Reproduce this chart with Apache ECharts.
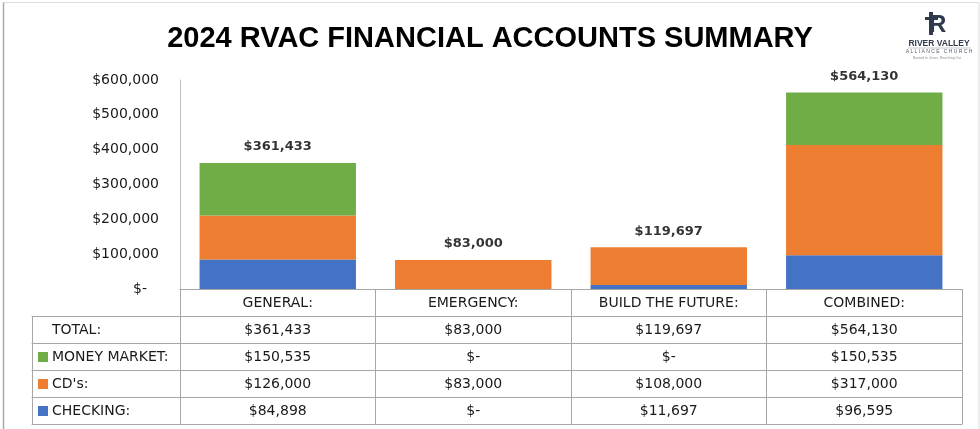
<!DOCTYPE html>
<html>
<head>
<meta charset="utf-8">
<title>2024 RVAC Financial Accounts Summary</title>
<script src="https://cdn.jsdelivr.net/npm/echarts@6/dist/echarts.min.js"></script>
<style>
    html, body { margin: 0; padding: 0; background: #fff; }
    #main { width: 980px; height: 429px; }
</style>
</head>
<body>
<div id="main"></div>
<script>
// accounts (columns of the table)
var accounts = ["GENERAL:", "EMERGENCY:", "BUILD THE FUTURE:", "COMBINED:"];
var checking = [84898, 0, 11697, 96595];
var cds = [126000, 83000, 108000, 317000];
var moneyMarket = [150535, 0, 0, 150535];
var totals = [361433, 83000, 119697, 564130];
var rowNames = ["TOTAL:", "MONEY MARKET:", "CD's:", "CHECKING:"];
var yTicks = [0, 100000, 200000, 300000, 400000, 500000, 600000];

var colors = { checking: "#4472C4", cds: "#ED7D31", mm: "#70AD47" };
var lineColor = "#a6a6a6";
var textColor = "#1a1a1a";
var font = "DejaVu Sans";

function money(v) {
    if (v === 0) return "$-";
    return "$" + v.toLocaleString("en-US");
}

// rows of the data table, top to bottom
var tableRows = [
    { name: rowNames[0], key: null, values: totals },
    { name: rowNames[1], key: "mm", values: moneyMarket },
    { name: rowNames[2], key: "cds", values: cds },
    { name: rowNames[3], key: "checking", values: checking }
];
var rowH = 27;

var chart = echarts.init(document.getElementById("main"));

var xAxes = [
    {   // header row: category names, also the zero line of the bars
        type: "category",
        gridIndex: 0,
        data: accounts,
        axisLine: { onZero: false, lineStyle: { color: lineColor, width: 1 } },
        axisTick: { show: true, length: rowH, lineStyle: { color: lineColor } },
        axisLabel: { margin: 7, color: textColor, fontSize: 14, fontFamily: font, interval: 0 }
    }
];
var rich = {
    mm: { width: 10, height: 10, backgroundColor: colors.mm },
    cds: { width: 10, height: 10, backgroundColor: colors.cds },
    checking: { width: 10, height: 10, backgroundColor: colors.checking },
    blank: { width: 10, height: 10 },
    t: { padding: [0, 0, 0, 4], fontSize: 14, fontFamily: font, color: textColor },
    lead: { width: 6 }
};
tableRows.forEach(function (row, i) {
    // value cells
    xAxes.push({
        type: "category",
        gridIndex: 0,
        position: "bottom",
        offset: rowH * (i + 1),
        data: row.values.map(money),
        axisLine: { onZero: false, lineStyle: { color: lineColor } },
        axisTick: { show: true, length: rowH, lineStyle: { color: lineColor } },
        axisLabel: { margin: 7, color: textColor, fontSize: 14, fontFamily: font, interval: 0 }
    });
    // row name cell
    xAxes.push({
        type: "value",
        gridIndex: 1,
        position: "bottom",
        offset: rowH * (i + 1),
        min: 0,
        max: 1,
        interval: 1,
        splitLine: { show: false },
        axisLine: { show: true, onZero: false, lineStyle: { color: lineColor } },
        axisTick: { show: true, length: rowH, lineStyle: { color: lineColor } },
        axisLabel: {
            margin: 7,
            align: "left",
            formatter: function (v) {
                if (v !== 0) return "";
                return "{lead|}{" + (row.key || "blank") + "|}{t|" + row.name + "}";
            },
            rich: rich
        }
    });
});
// closing line under the table
xAxes.push({
    type: "category", gridIndex: 0, position: "bottom", offset: rowH * 5,
    data: accounts, axisLine: { onZero: false, lineStyle: { color: lineColor } },
    axisTick: { show: false }, axisLabel: { show: false }
});
xAxes.push({
    type: "value", gridIndex: 1, position: "bottom", offset: rowH * 5,
    min: 0, max: 1, interval: 1, splitLine: { show: false },
    axisLine: { show: true, onZero: false, lineStyle: { color: lineColor } },
    axisTick: { show: false }, axisLabel: { show: false }
});

var option = {
    animation: false,
    backgroundColor: "#fff",
    title: {
        text: "2024 RVAC FINANCIAL ACCOUNTS SUMMARY",
        left: "center",
        top: 24,
        padding: 0,
        textStyle: { fontFamily: "Liberation Sans", fontSize: 29, fontWeight: "bold", color: "#000" }
    },
    grid: [
        { left: 180, right: 18, top: 80, bottom: 140 },
        { left: 32, width: 148, top: 80, bottom: 140 }
    ],
    xAxis: xAxes,
    yAxis: [
        {
            type: "value",
            gridIndex: 0,
            min: yTicks[0],
            max: yTicks[yTicks.length - 1],
            interval: yTicks[1] - yTicks[0],
            splitLine: { show: false },
            axisLine: { show: true, lineStyle: { color: "#bfbfbf" } },
            axisTick: { show: false },
            axisLabel: {
                margin: 21,
                color: textColor,
                fontSize: 14,
                fontFamily: font,
                formatter: function (v) {
                    return v === 0 ? "{z|$-}" : money(v);
                },
                rich: { z: { padding: [0, 12, 0, 0], fontSize: 14, fontFamily: font, color: textColor } }
            }
        },
        { type: "value", gridIndex: 1, show: false, min: 0, max: 1 }
    ],
    series: [
        {
            name: "CHECKING", type: "bar", stack: "acc", data: checking,
            barWidth: "80%", itemStyle: { color: colors.checking }
        },
        {
            name: "CD's", type: "bar", stack: "acc", data: cds,
            barWidth: "80%", itemStyle: { color: colors.cds }
        },
        {
            name: "MONEY MARKET", type: "bar", stack: "acc", data: moneyMarket,
            barWidth: "80%", itemStyle: { color: colors.mm }
        },
        {
            name: "TOTAL", type: "scatter", data: totals, symbolSize: 1,
            itemStyle: { color: "rgba(0,0,0,0)" },
            label: {
                show: true, position: "top", distance: 9,
                fontFamily: font, fontSize: 13, fontWeight: "bold", color: "#000",
                formatter: function (p) { return money(p.value); }
            }
        }
    ],
    graphic: [
        // frame
        { type: "line", shape: { x1: 3.5, y1: 2.5, x2: 3.5, y2: 429 }, style: { stroke: "#aaaaaa", lineWidth: 1.5 }, silent: true },
        { type: "line", shape: { x1: 3.5, y1: 2.5, x2: 979, y2: 2.5 }, style: { stroke: "#dddddd", lineWidth: 1 }, silent: true },
        { type: "line", shape: { x1: 979, y1: 2.5, x2: 979, y2: 429 }, style: { stroke: "#dddddd", lineWidth: 1 }, silent: true },
        // logo
        { type: "rect", shape: { x: 929, y: 12, width: 4, height: 23 }, style: { fill: "#2f3a4c" }, silent: true },
        { type: "rect", shape: { x: 925, y: 17, width: 13, height: 3 }, style: { fill: "#2f3a4c" }, silent: true },
        { type: "text", x: 929, y: 13, style: { text: "R", font: "bold 24px 'Liberation Sans'", fill: "#2f3a4c" }, silent: true },
        { type: "text", x: 939, y: 44, style: { text: "RIVER VALLEY", font: "bold 8.5px 'Liberation Sans'", fill: "#2f3a4c", align: "center", verticalAlign: "middle" }, silent: true },
        { type: "line", shape: { x1: 908, y1: 48, x2: 971, y2: 48 }, style: { stroke: "#9aa0aa", lineWidth: 0.6 }, silent: true },
        { type: "text", x: 939, y: 51.5, style: { text: "A L L I A N C E   C H U R C H", font: "5px 'Liberation Sans'", fill: "#5a6270", align: "center", verticalAlign: "middle" }, silent: true },
        { type: "text", x: 937, y: 58, style: { text: "Rooted in Jesus, Reaching Out", font: "3.5px 'Liberation Sans'", fill: "#8a8f98", align: "center", verticalAlign: "middle" }, silent: true }
    ]
};
chart.setOption(option);
</script>
</body>
</html>
